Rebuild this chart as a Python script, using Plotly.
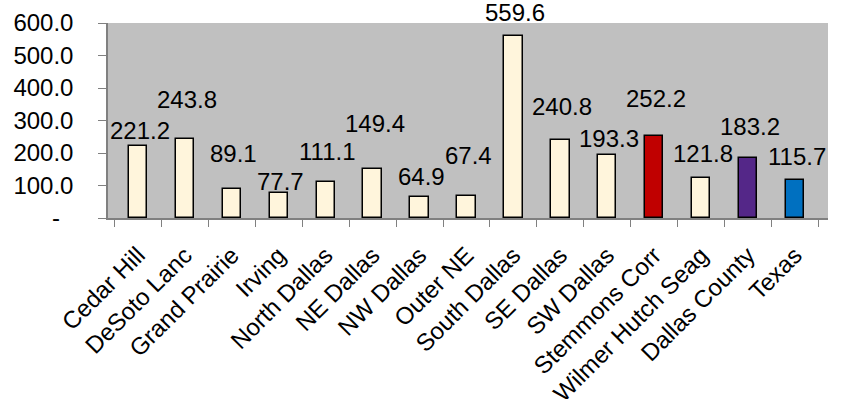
import plotly.graph_objects as go

categories = ["Cedar Hill", "DeSoto Lanc", "Grand Prairie", "Irving", "North Dallas",
              "NE Dallas", "NW Dallas", "Outer NE", "South Dallas", "SE Dallas",
              "SW Dallas", "Stemmons Corr", "Wilmer Hutch Seag", "Dallas County", "Texas"]
values = [221.2, 243.8, 89.1, 77.7, 111.1, 149.4, 64.9, 67.4, 559.6, 240.8,
          193.3, 252.2, 121.8, 183.2, 115.7]
ytick_vals = [0, 100, 200, 300, 400, 500, 600]
ytick_text = ["-\u00a0\u00a0", "100.0", "200.0", "300.0", "400.0", "500.0", "600.0"]

# styling (not data)
cream = "#FFF5DC"
bar_colors = [cream] * 11 + ["#C00000", cream, "#542788", "#0070C0"]
label_yshift = [16, 39, 36, 11, 30, 46, 20, 41, 24, 33, 17, 38, 25, 32, 24]

font_family = "Liberation Sans, Arial, sans-serif"
fs = 24

fig = go.Figure()
fig.add_trace(go.Bar(
    x=categories, y=values,
    marker=dict(color=bar_colors, line=dict(color="#000000", width=1.5)),
    width=0.39,
))

for c, v, s in zip(categories, values, label_yshift):
    fig.add_annotation(x=c, y=v, text=f"{v:.1f}", showarrow=False,
                       yshift=s, xshift=2, yanchor="middle",
                       font=dict(size=fs, color="#000000", family=font_family))

fig.update_layout(
    width=846, height=399,
    margin=dict(l=108, r=18, t=23, b=181, autoexpand=False),
    plot_bgcolor="#C0C0C0", paper_bgcolor="#FFFFFF",
    showlegend=False,
    font=dict(family=font_family, size=fs, color="#000000"),
    bargap=0,
)
fig.update_xaxes(
    tickangle=-45, tickson="boundaries", ticks="outside", ticklen=7,
    tickcolor="#808080", showline=True, linecolor="#808080", linewidth=1.5,
    showgrid=False, tickfont=dict(size=fs, family=font_family),
    automargin=False, ticklabelstandoff=12,
)
fig.update_yaxes(
    range=[0, 600], tickvals=ytick_vals, ticktext=ytick_text,
    ticks="outside", ticklen=8, tickcolor="#808080", showline=True,
    linecolor="#808080", linewidth=1.5, showgrid=False, zeroline=False,
    tickfont=dict(size=fs, family=font_family),
    automargin=False, ticklabelstandoff=20,
)

fig.write_html("out.html",
               config={"displayModeBar": False},
               post_script="document.body.style.margin='0px';document.body.style.overflow='hidden';")
